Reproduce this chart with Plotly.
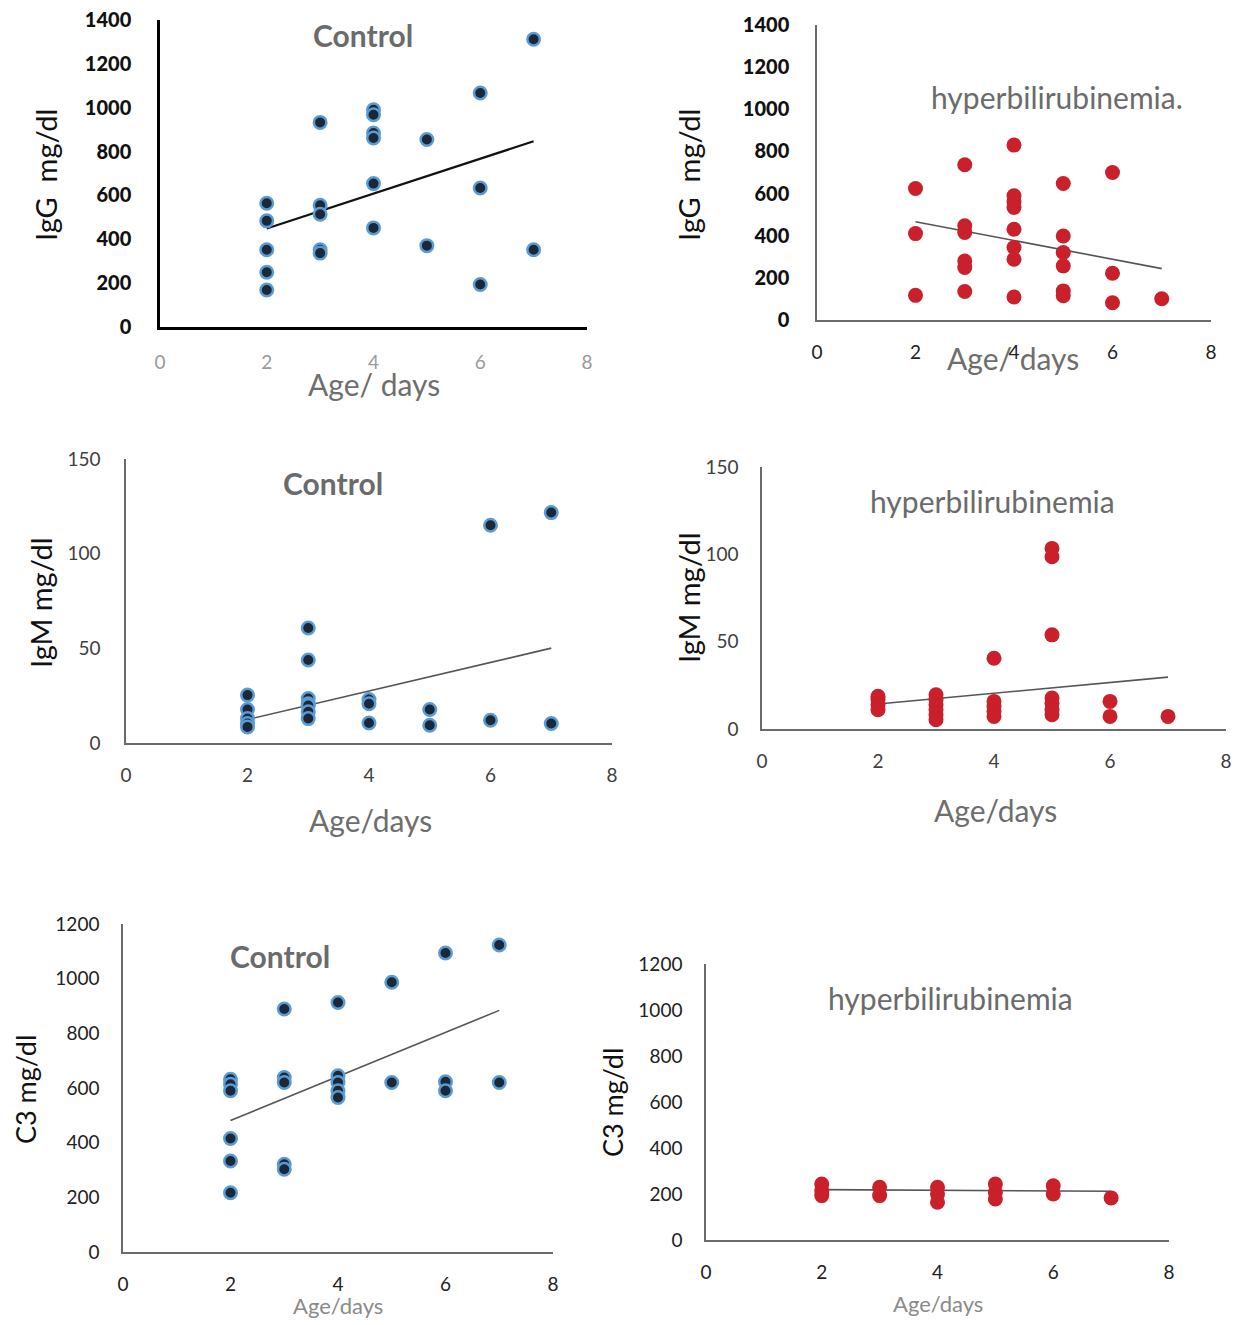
import plotly.graph_objects as go

# ---------------- data ----------------
igg_ctrl_x = [2, 2, 2, 2, 2, 3, 3, 3, 3, 3, 4, 4, 4, 4, 4, 4, 5, 5, 6, 6, 6, 7, 7]
igg_ctrl_y = [564, 484, 352, 250, 169, 933, 555, 514, 352, 337, 991, 968, 885, 862, 654, 452,
              855, 371, 1067, 634, 194, 1312, 352]

igg_hyp_x = [2, 2, 2, 3, 3, 3, 3, 3, 3, 4, 4, 4, 4, 4, 4, 4, 4, 5, 5, 5, 5, 5, 5, 6, 6, 6, 7]
igg_hyp_y = [624, 410, 117, 737, 447, 415, 280, 249, 135, 830, 590, 561, 534, 431, 344, 288, 109,
             648, 399, 320, 257, 138, 115, 700, 222, 82, 101]

igm_ctrl_x = [2, 2, 2, 2, 2, 3, 3, 3, 3, 3, 3, 3, 4, 4, 4, 5, 5, 6, 6, 7, 7]
igm_ctrl_y = [25.3, 17.7, 12.9, 10.3, 8.5, 60.7, 43.8, 23.5, 20.7, 19.8, 16.5, 12.9,
              23, 20.7, 10.6, 17.7, 9.4, 115, 12, 121.7, 10.3]

igm_hyp_x = [2, 2, 2, 2, 3, 3, 3, 3, 3, 3, 4, 4, 4, 4, 4, 5, 5, 5, 5, 5, 5, 5, 6, 6, 7]
igm_hyp_y = [18.7, 16.8, 13.9, 11, 19.6, 16.8, 13.9, 11, 8.2, 5.3, 40.5, 15.8, 12.9, 10, 7.2,
             103.4, 98.6, 53.9, 17.7, 14.8, 11, 8.2, 15.8, 7.2, 7.2]

c3_ctrl_x = [2, 2, 2, 2, 2, 2, 3, 3, 3, 3, 3, 4, 4, 4, 4, 4, 5, 5, 6, 6, 6, 7, 7]
c3_ctrl_y = [632, 614, 590, 415, 333, 217, 889, 638, 620, 321, 303, 913, 645, 620, 590, 565,
             987, 620, 1094, 623, 590, 1123, 620]

c3_hyp_x = [2, 2, 2, 3, 3, 4, 4, 4, 5, 5, 5, 6, 6, 7]
c3_hyp_y = [243, 214, 193, 229, 193, 229, 200, 164, 243, 207, 178, 236, 200, 183]

# trendline end values (at first and last age)
trend_x = [2, 7]
igg_ctrl_trend = [449, 847]
igg_hyp_trend = [466, 244]
igm_ctrl_trend = [12.4, 50.1]
igm_hyp_trend = [14.3, 29.7]
c3_ctrl_trend = [481, 884]
c3_hyp_trend = [219, 212]

x_ticks = [0, 2, 4, 6, 8]
igg_ticks = [0, 200, 400, 600, 800, 1000, 1200, 1400]
igm_ticks = [0, 50, 100, 150]
c3_ticks = [0, 200, 400, 600, 800, 1000, 1200]

titles = ["Control", "hyperbilirubinemia.", "Control", "hyperbilirubinemia", "Control", "hyperbilirubinemia"]
ytitles = ["IgG  mg/dl", "IgG  mg/dl", "IgM mg/dl", "IgM mg/dl", "C3 mg/dl", "C3 mg/dl"]
xtitles = ["Age/ days", "Age/ days", "Age/days", "Age/days", "Age/days", "Age/days"]

# ---------------- layout / style ----------------
W, H = 1246, 1325
OFF = 8  # page body margin
FONT = "Lato, Open Sans, sans-serif"

def px(x):
    return (x - OFF) / W

def py(y):
    return 1 - (y - OFF) / H

CTRL = dict(color="#1b2838", size=12.5, line=dict(color="#5b9bd5", width=2.5))
HYP = dict(color="#c9202b", size=15, line=dict(width=0))

panels = [
    dict(x=igg_ctrl_x, y=igg_ctrl_y, trend=igg_ctrl_trend, ticks=igg_ticks, ymax=1400, marker=CTRL,
         box=(160, 587, 20, 327), axc="#000000", axw=2.5, trc="#111111", trw=2.2,
         ytf=dict(size=20, color="#111111", family="Lato Black, Lato, sans-serif"),
         xtf=dict(size=19, color="#9a9a9a", family=FONT), ystand=22, xstand=16,
         title_pos=(363, 35), title_bold=True,
         yt_pos=(45, 175), yt_size=29, yt_color="#111111",
         xt_pos=(374, 384), xt_size=30, xt_color="#6e6e6e"),
    dict(x=igg_hyp_x, y=igg_hyp_y, trend=igg_hyp_trend, ticks=igg_ticks, ymax=1400, marker=HYP,
         box=(817, 1211, 25, 320), axc="#6a6a6a", axw=1.5, trc="#555555", trw=1.6,
         ytf=dict(size=20, color="#111111", family="Lato Black, Lato, sans-serif"),
         xtf=dict(size=19, color="#222222", family=FONT), ystand=22, xstand=14,
         title_pos=(1057, 97), title_bold=False,
         yt_pos=(688, 175), yt_size=29, yt_color="#111111",
         xt_pos=(1013, 358), xt_size=30, xt_color="#6e6e6e"),
    dict(x=igm_ctrl_x, y=igm_ctrl_y, trend=igm_ctrl_trend, ticks=igm_ticks, ymax=150, marker=CTRL,
         box=(126, 612, 459, 743), axc="#6a6a6a", axw=1.5, trc="#555555", trw=1.6,
         ytf=dict(size=19, color="#404040", family=FONT),
         xtf=dict(size=19, color="#404040", family=FONT), ystand=20, xstand=14,
         title_pos=(333, 483), title_bold=True,
         yt_pos=(40, 603), yt_size=29, yt_color="#111111",
         xt_pos=(370, 820), xt_size=30, xt_color="#6e6e6e"),
    dict(x=igm_hyp_x, y=igm_hyp_y, trend=igm_hyp_trend, ticks=igm_ticks, ymax=150, marker=HYP,
         box=(762, 1226, 467, 729), axc="#6a6a6a", axw=1.5, trc="#555555", trw=1.6,
         ytf=dict(size=19, color="#404040", family=FONT),
         xtf=dict(size=19, color="#404040", family=FONT), ystand=18, xstand=14,
         title_pos=(992, 501), title_bold=False,
         yt_pos=(688, 598), yt_size=29, yt_color="#111111",
         xt_pos=(995, 810), xt_size=30, xt_color="#6e6e6e"),
    dict(x=c3_ctrl_x, y=c3_ctrl_y, trend=c3_ctrl_trend, ticks=c3_ticks, ymax=1200, marker=CTRL,
         box=(123, 553, 924, 1252), axc="#6a6a6a", axw=1.5, trc="#555555", trw=1.6,
         ytf=dict(size=19, color="#222222", family=FONT),
         xtf=dict(size=19, color="#222222", family=FONT), ystand=18, xstand=14,
         title_pos=(280, 956), title_bold=True,
         yt_pos=(25, 1090), yt_size=27, yt_color="#111111",
         xt_pos=(338, 1305), xt_size=22, xt_color="#8a8a8a"),
    dict(x=c3_hyp_x, y=c3_hyp_y, trend=c3_hyp_trend, ticks=c3_ticks, ymax=1200, marker=HYP,
         box=(706, 1169, 964, 1240), axc="#6a6a6a", axw=1.5, trc="#555555", trw=1.6,
         ytf=dict(size=19, color="#222222", family=FONT),
         xtf=dict(size=19, color="#222222", family=FONT), ystand=18, xstand=14,
         title_pos=(950, 998), title_bold=False,
         yt_pos=(612, 1103), yt_size=27, yt_color="#111111",
         xt_pos=(938, 1303), xt_size=22, xt_color="#8a8a8a"),
]

fig = go.Figure()
annotations = []
layout_axes = {}

for i, p in enumerate(panels):
    n = i + 1
    xa = "x" if n == 1 else f"x{n}"
    ya = "y" if n == 1 else f"y{n}"
    xkey = "xaxis" if n == 1 else f"xaxis{n}"
    ykey = "yaxis" if n == 1 else f"yaxis{n}"
    x0, x1, y0, y1 = p["box"]

    fig.add_trace(go.Scatter(x=trend_x, y=p["trend"], mode="lines",
                             line=dict(color=p["trc"], width=p["trw"]),
                             xaxis=xa, yaxis=ya, showlegend=False, cliponaxis=False))
    fig.add_trace(go.Scatter(x=p["x"], y=p["y"], mode="markers", marker=p["marker"],
                             xaxis=xa, yaxis=ya, showlegend=False, cliponaxis=False))

    layout_axes[xkey] = dict(domain=[px(x0), px(x1)], anchor=ya, range=[0, 8],
                             tickvals=x_ticks, showgrid=False, zeroline=False,
                             showline=True, linecolor=p["axc"], linewidth=p["axw"],
                             ticks="", tickfont=p["xtf"], ticklabelstandoff=p["xstand"],
                             ticklabeloverflow="allow",
                             automargin=False, fixedrange=True)
    layout_axes[ykey] = dict(domain=[py(y1), py(y0)], anchor=xa, range=[0, p["ymax"]],
                             tickvals=p["ticks"], showgrid=False, zeroline=False,
                             showline=True, linecolor=p["axc"], linewidth=p["axw"],
                             ticks="", tickfont=p["ytf"], ticklabelstandoff=p["ystand"],
                             ticklabeloverflow="allow",
                             automargin=False, fixedrange=True)

    t = titles[i]
    annotations.append(dict(x=px(p["title_pos"][0]), y=py(p["title_pos"][1]), xref="paper", yref="paper",
                            text=f"<b>{t}</b>" if p["title_bold"] else t, showarrow=False,
                            font=dict(family=FONT, size=30, color="#6b6b6b"),
                            xanchor="center", yanchor="middle"))
    annotations.append(dict(x=px(p["yt_pos"][0]), y=py(p["yt_pos"][1]), xref="paper", yref="paper",
                            text=ytitles[i], showarrow=False, textangle=-90,
                            font=dict(family=FONT, size=p["yt_size"], color=p["yt_color"]),
                            xanchor="center", yanchor="middle"))
    annotations.append(dict(x=px(p["xt_pos"][0]), y=py(p["xt_pos"][1]), xref="paper", yref="paper",
                            text=xtitles[i], showarrow=False,
                            font=dict(family=FONT, size=p["xt_size"], color=p["xt_color"]),
                            xanchor="center", yanchor="middle"))

fig.update_layout(width=W, height=H, margin=dict(l=0, r=0, t=0, b=0, autoexpand=False),
                  paper_bgcolor="white", plot_bgcolor="white",
                  font=dict(family=FONT), annotations=annotations, **layout_axes)

fig.write_html("out.html")
